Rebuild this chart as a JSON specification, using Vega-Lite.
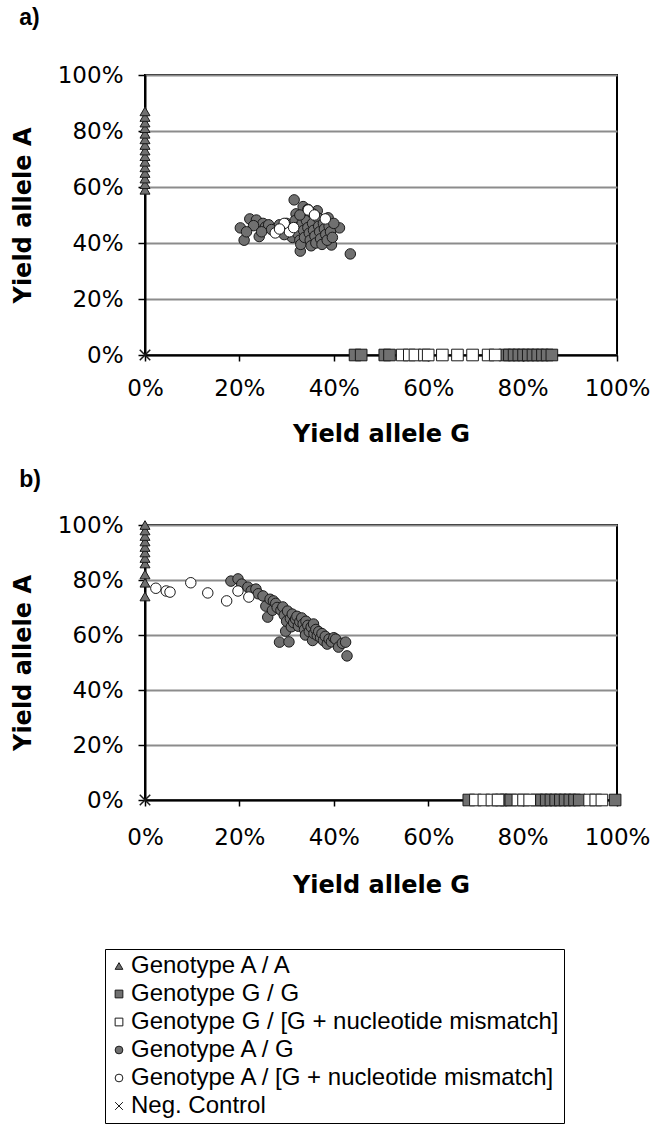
{
  "$schema": "https://vega.github.io/schema/vega-lite/v6.json",
  "background": "white",
  "padding": {"left": 10, "top": 6, "right": 5, "bottom": 0},
  "config": {
    "view": {"stroke": "black", "strokeWidth": 2},
    "axis": {
      "domainColor": "black", "domainWidth": 2,
      "tickColor": "black", "tickWidth": 1.5,
      "labelFont": "DejaVu Sans", "labelFontSize": 23, "labelColor": "black",
      "titleFont": "DejaVu Sans", "titleFontSize": 24, "titleFontWeight": "bold", "titleColor": "black"
    },
    "axisX": {"grid": false, "tickSize": 6, "labelPadding": 16, "titlePadding": 22, "labelFlush": false},
    "axisY": {"grid": true, "gridColor": "#8c8c8c", "gridWidth": 2, "gridOpacity": 1, "tickSize": 7, "labelPadding": 15, "titlePadding": 22, "labelFlush": false},
    "title": {"anchor": "start", "frame": "bounds", "font": "Liberation Sans", "fontSize": 23, "fontWeight": "bold", "color": "black", "dx": 8},
    "legend": {"labelLimit": 700},
    "point": {"opacity": 1, "stroke": "#1a1a1a", "strokeWidth": 1}
  },
  "datasets": {
    "pa": [
      {"genotype": "Genotype A / A", "g": 0, "a": 0.59},
      {"genotype": "Genotype A / A", "g": 0, "a": 0.61},
      {"genotype": "Genotype A / A", "g": 0, "a": 0.63},
      {"genotype": "Genotype A / A", "g": 0, "a": 0.65},
      {"genotype": "Genotype A / A", "g": 0, "a": 0.67},
      {"genotype": "Genotype A / A", "g": 0, "a": 0.69},
      {"genotype": "Genotype A / A", "g": 0, "a": 0.71},
      {"genotype": "Genotype A / A", "g": 0, "a": 0.73},
      {"genotype": "Genotype A / A", "g": 0, "a": 0.75},
      {"genotype": "Genotype A / A", "g": 0, "a": 0.77},
      {"genotype": "Genotype A / A", "g": 0, "a": 0.79},
      {"genotype": "Genotype A / A", "g": 0, "a": 0.81},
      {"genotype": "Genotype A / A", "g": 0, "a": 0.83},
      {"genotype": "Genotype A / A", "g": 0, "a": 0.85},
      {"genotype": "Genotype A / A", "g": 0, "a": 0.87},
      {"genotype": "Genotype G / G", "g": 0.445, "a": 0},
      {"genotype": "Genotype G / G", "g": 0.458, "a": 0},
      {"genotype": "Genotype G / G", "g": 0.508, "a": 0},
      {"genotype": "Genotype G / G", "g": 0.518, "a": 0},
      {"genotype": "Genotype G / G", "g": 0.762, "a": 0},
      {"genotype": "Genotype G / G", "g": 0.772, "a": 0},
      {"genotype": "Genotype G / G", "g": 0.782, "a": 0},
      {"genotype": "Genotype G / G", "g": 0.792, "a": 0},
      {"genotype": "Genotype G / G", "g": 0.802, "a": 0},
      {"genotype": "Genotype G / G", "g": 0.812, "a": 0},
      {"genotype": "Genotype G / G", "g": 0.822, "a": 0},
      {"genotype": "Genotype G / G", "g": 0.832, "a": 0},
      {"genotype": "Genotype G / G", "g": 0.842, "a": 0},
      {"genotype": "Genotype G / G", "g": 0.852, "a": 0},
      {"genotype": "Genotype G / G", "g": 0.862, "a": 0},
      {"genotype": "Genotype G / [G + nucleotide mismatch]", "g": 0.545, "a": 0},
      {"genotype": "Genotype G / [G + nucleotide mismatch]", "g": 0.560, "a": 0},
      {"genotype": "Genotype G / [G + nucleotide mismatch]", "g": 0.572, "a": 0},
      {"genotype": "Genotype G / [G + nucleotide mismatch]", "g": 0.592, "a": 0},
      {"genotype": "Genotype G / [G + nucleotide mismatch]", "g": 0.600, "a": 0},
      {"genotype": "Genotype G / [G + nucleotide mismatch]", "g": 0.630, "a": 0},
      {"genotype": "Genotype G / [G + nucleotide mismatch]", "g": 0.662, "a": 0},
      {"genotype": "Genotype G / [G + nucleotide mismatch]", "g": 0.694, "a": 0},
      {"genotype": "Genotype G / [G + nucleotide mismatch]", "g": 0.727, "a": 0},
      {"genotype": "Genotype G / [G + nucleotide mismatch]", "g": 0.742, "a": 0},
      {"genotype": "Genotype A / G", "g": 0.202, "a": 0.454},
      {"genotype": "Genotype A / G", "g": 0.210, "a": 0.410},
      {"genotype": "Genotype A / G", "g": 0.222, "a": 0.486},
      {"genotype": "Genotype A / G", "g": 0.236, "a": 0.482},
      {"genotype": "Genotype A / G", "g": 0.242, "a": 0.423},
      {"genotype": "Genotype A / G", "g": 0.250, "a": 0.470},
      {"genotype": "Genotype A / G", "g": 0.255, "a": 0.457},
      {"genotype": "Genotype A / G", "g": 0.262, "a": 0.465},
      {"genotype": "Genotype A / G", "g": 0.230, "a": 0.462},
      {"genotype": "Genotype A / G", "g": 0.268, "a": 0.448},
      {"genotype": "Genotype A / G", "g": 0.215, "a": 0.440},
      {"genotype": "Genotype A / G", "g": 0.247, "a": 0.440},
      {"genotype": "Genotype A / G", "g": 0.316, "a": 0.554},
      {"genotype": "Genotype A / G", "g": 0.320, "a": 0.504},
      {"genotype": "Genotype A / G", "g": 0.329, "a": 0.371},
      {"genotype": "Genotype A / G", "g": 0.395, "a": 0.393},
      {"genotype": "Genotype A / G", "g": 0.412, "a": 0.454},
      {"genotype": "Genotype A / G", "g": 0.435, "a": 0.361},
      {"genotype": "Genotype A / G", "g": 0.300, "a": 0.470},
      {"genotype": "Genotype A / G", "g": 0.305, "a": 0.455},
      {"genotype": "Genotype A / G", "g": 0.310, "a": 0.440},
      {"genotype": "Genotype A / G", "g": 0.312, "a": 0.420},
      {"genotype": "Genotype A / G", "g": 0.318, "a": 0.480},
      {"genotype": "Genotype A / G", "g": 0.322, "a": 0.455},
      {"genotype": "Genotype A / G", "g": 0.325, "a": 0.430},
      {"genotype": "Genotype A / G", "g": 0.328, "a": 0.410},
      {"genotype": "Genotype A / G", "g": 0.330, "a": 0.395},
      {"genotype": "Genotype A / G", "g": 0.333, "a": 0.470},
      {"genotype": "Genotype A / G", "g": 0.336, "a": 0.445},
      {"genotype": "Genotype A / G", "g": 0.338, "a": 0.420},
      {"genotype": "Genotype A / G", "g": 0.340, "a": 0.500},
      {"genotype": "Genotype A / G", "g": 0.342, "a": 0.480},
      {"genotype": "Genotype A / G", "g": 0.345, "a": 0.455},
      {"genotype": "Genotype A / G", "g": 0.348, "a": 0.435},
      {"genotype": "Genotype A / G", "g": 0.350, "a": 0.410},
      {"genotype": "Genotype A / G", "g": 0.352, "a": 0.390},
      {"genotype": "Genotype A / G", "g": 0.355, "a": 0.470},
      {"genotype": "Genotype A / G", "g": 0.357, "a": 0.445},
      {"genotype": "Genotype A / G", "g": 0.360, "a": 0.425},
      {"genotype": "Genotype A / G", "g": 0.362, "a": 0.400},
      {"genotype": "Genotype A / G", "g": 0.365, "a": 0.515},
      {"genotype": "Genotype A / G", "g": 0.366, "a": 0.490},
      {"genotype": "Genotype A / G", "g": 0.368, "a": 0.460},
      {"genotype": "Genotype A / G", "g": 0.370, "a": 0.440},
      {"genotype": "Genotype A / G", "g": 0.372, "a": 0.415},
      {"genotype": "Genotype A / G", "g": 0.375, "a": 0.395},
      {"genotype": "Genotype A / G", "g": 0.378, "a": 0.470},
      {"genotype": "Genotype A / G", "g": 0.380, "a": 0.450},
      {"genotype": "Genotype A / G", "g": 0.383, "a": 0.430},
      {"genotype": "Genotype A / G", "g": 0.386, "a": 0.410},
      {"genotype": "Genotype A / G", "g": 0.388, "a": 0.490},
      {"genotype": "Genotype A / G", "g": 0.390, "a": 0.460},
      {"genotype": "Genotype A / G", "g": 0.393, "a": 0.440},
      {"genotype": "Genotype A / G", "g": 0.397, "a": 0.420},
      {"genotype": "Genotype A / G", "g": 0.400, "a": 0.470},
      {"genotype": "Genotype A / G", "g": 0.335, "a": 0.530},
      {"genotype": "Genotype A / G", "g": 0.345, "a": 0.520},
      {"genotype": "Genotype A / G", "g": 0.355, "a": 0.505},
      {"genotype": "Genotype A / G", "g": 0.328, "a": 0.500},
      {"genotype": "Genotype A / G", "g": 0.290, "a": 0.450},
      {"genotype": "Genotype A / G", "g": 0.295, "a": 0.430},
      {"genotype": "Genotype A / G", "g": 0.285, "a": 0.465},
      {"genotype": "Genotype A / [G + nucleotide mismatch]", "g": 0.276, "a": 0.436},
      {"genotype": "Genotype A / [G + nucleotide mismatch]", "g": 0.306, "a": 0.440},
      {"genotype": "Genotype A / [G + nucleotide mismatch]", "g": 0.295, "a": 0.470},
      {"genotype": "Genotype A / [G + nucleotide mismatch]", "g": 0.285, "a": 0.450},
      {"genotype": "Genotype A / [G + nucleotide mismatch]", "g": 0.346, "a": 0.518},
      {"genotype": "Genotype A / [G + nucleotide mismatch]", "g": 0.359, "a": 0.500},
      {"genotype": "Genotype A / [G + nucleotide mismatch]", "g": 0.382, "a": 0.486},
      {"genotype": "Genotype A / [G + nucleotide mismatch]", "g": 0.315, "a": 0.455},
      {"genotype": "Neg. Control", "g": 0, "a": 0}
    ],
    "pb": [
      {"genotype": "Genotype A / A", "g": 0, "a": 0.74},
      {"genotype": "Genotype A / A", "g": 0, "a": 0.79},
      {"genotype": "Genotype A / A", "g": 0, "a": 0.82},
      {"genotype": "Genotype A / A", "g": 0, "a": 0.86},
      {"genotype": "Genotype A / A", "g": 0, "a": 0.88},
      {"genotype": "Genotype A / A", "g": 0, "a": 0.90},
      {"genotype": "Genotype A / A", "g": 0, "a": 0.92},
      {"genotype": "Genotype A / A", "g": 0, "a": 0.94},
      {"genotype": "Genotype A / A", "g": 0, "a": 0.96},
      {"genotype": "Genotype A / A", "g": 0, "a": 0.98},
      {"genotype": "Genotype A / A", "g": 0, "a": 1.0},
      {"genotype": "Genotype G / G", "g": 0.686, "a": 0},
      {"genotype": "Genotype G / G", "g": 0.755, "a": 0},
      {"genotype": "Genotype G / G", "g": 0.765, "a": 0},
      {"genotype": "Genotype G / G", "g": 0.775, "a": 0},
      {"genotype": "Genotype G / G", "g": 0.830, "a": 0},
      {"genotype": "Genotype G / G", "g": 0.840, "a": 0},
      {"genotype": "Genotype G / G", "g": 0.850, "a": 0},
      {"genotype": "Genotype G / G", "g": 0.860, "a": 0},
      {"genotype": "Genotype G / G", "g": 0.870, "a": 0},
      {"genotype": "Genotype G / G", "g": 0.880, "a": 0},
      {"genotype": "Genotype G / G", "g": 0.890, "a": 0},
      {"genotype": "Genotype G / G", "g": 0.900, "a": 0},
      {"genotype": "Genotype G / G", "g": 0.910, "a": 0},
      {"genotype": "Genotype G / G", "g": 0.920, "a": 0},
      {"genotype": "Genotype G / G", "g": 0.996, "a": 0},
      {"genotype": "Genotype G / [G + nucleotide mismatch]", "g": 0.700, "a": 0},
      {"genotype": "Genotype G / [G + nucleotide mismatch]", "g": 0.718, "a": 0},
      {"genotype": "Genotype G / [G + nucleotide mismatch]", "g": 0.735, "a": 0},
      {"genotype": "Genotype G / [G + nucleotide mismatch]", "g": 0.748, "a": 0},
      {"genotype": "Genotype G / [G + nucleotide mismatch]", "g": 0.790, "a": 0},
      {"genotype": "Genotype G / [G + nucleotide mismatch]", "g": 0.802, "a": 0},
      {"genotype": "Genotype G / [G + nucleotide mismatch]", "g": 0.815, "a": 0},
      {"genotype": "Genotype G / [G + nucleotide mismatch]", "g": 0.942, "a": 0},
      {"genotype": "Genotype G / [G + nucleotide mismatch]", "g": 0.955, "a": 0},
      {"genotype": "Genotype G / [G + nucleotide mismatch]", "g": 0.968, "a": 0},
      {"genotype": "Genotype A / G", "g": 0.182, "a": 0.796},
      {"genotype": "Genotype A / G", "g": 0.197, "a": 0.804},
      {"genotype": "Genotype A / G", "g": 0.205, "a": 0.785},
      {"genotype": "Genotype A / G", "g": 0.218, "a": 0.774},
      {"genotype": "Genotype A / G", "g": 0.225, "a": 0.760},
      {"genotype": "Genotype A / G", "g": 0.235, "a": 0.767},
      {"genotype": "Genotype A / G", "g": 0.240, "a": 0.750},
      {"genotype": "Genotype A / G", "g": 0.250, "a": 0.742},
      {"genotype": "Genotype A / G", "g": 0.256, "a": 0.705},
      {"genotype": "Genotype A / G", "g": 0.260, "a": 0.665},
      {"genotype": "Genotype A / G", "g": 0.265, "a": 0.730},
      {"genotype": "Genotype A / G", "g": 0.270, "a": 0.690},
      {"genotype": "Genotype A / G", "g": 0.272, "a": 0.724},
      {"genotype": "Genotype A / G", "g": 0.277, "a": 0.715},
      {"genotype": "Genotype A / G", "g": 0.280, "a": 0.700},
      {"genotype": "Genotype A / G", "g": 0.285, "a": 0.574},
      {"genotype": "Genotype A / G", "g": 0.288, "a": 0.690},
      {"genotype": "Genotype A / G", "g": 0.292, "a": 0.702},
      {"genotype": "Genotype A / G", "g": 0.295, "a": 0.672},
      {"genotype": "Genotype A / G", "g": 0.298, "a": 0.614},
      {"genotype": "Genotype A / G", "g": 0.300, "a": 0.650},
      {"genotype": "Genotype A / G", "g": 0.302, "a": 0.687},
      {"genotype": "Genotype A / G", "g": 0.305, "a": 0.575},
      {"genotype": "Genotype A / G", "g": 0.308, "a": 0.660},
      {"genotype": "Genotype A / G", "g": 0.310, "a": 0.630},
      {"genotype": "Genotype A / G", "g": 0.312, "a": 0.676},
      {"genotype": "Genotype A / G", "g": 0.315, "a": 0.645},
      {"genotype": "Genotype A / G", "g": 0.319, "a": 0.658},
      {"genotype": "Genotype A / G", "g": 0.322, "a": 0.668},
      {"genotype": "Genotype A / G", "g": 0.325, "a": 0.632},
      {"genotype": "Genotype A / G", "g": 0.328, "a": 0.648},
      {"genotype": "Genotype A / G", "g": 0.332, "a": 0.662},
      {"genotype": "Genotype A / G", "g": 0.335, "a": 0.640},
      {"genotype": "Genotype A / G", "g": 0.338, "a": 0.620},
      {"genotype": "Genotype A / G", "g": 0.340, "a": 0.600},
      {"genotype": "Genotype A / G", "g": 0.341, "a": 0.650},
      {"genotype": "Genotype A / G", "g": 0.345, "a": 0.635},
      {"genotype": "Genotype A / G", "g": 0.348, "a": 0.612},
      {"genotype": "Genotype A / G", "g": 0.352, "a": 0.629},
      {"genotype": "Genotype A / G", "g": 0.355, "a": 0.580},
      {"genotype": "Genotype A / G", "g": 0.357, "a": 0.640},
      {"genotype": "Genotype A / G", "g": 0.358, "a": 0.605},
      {"genotype": "Genotype A / G", "g": 0.362, "a": 0.620},
      {"genotype": "Genotype A / G", "g": 0.365, "a": 0.598},
      {"genotype": "Genotype A / G", "g": 0.368, "a": 0.612},
      {"genotype": "Genotype A / G", "g": 0.372, "a": 0.590},
      {"genotype": "Genotype A / G", "g": 0.375, "a": 0.605},
      {"genotype": "Genotype A / G", "g": 0.378, "a": 0.580},
      {"genotype": "Genotype A / G", "g": 0.382, "a": 0.595},
      {"genotype": "Genotype A / G", "g": 0.386, "a": 0.567},
      {"genotype": "Genotype A / G", "g": 0.390, "a": 0.585},
      {"genotype": "Genotype A / G", "g": 0.395, "a": 0.575},
      {"genotype": "Genotype A / G", "g": 0.400, "a": 0.590},
      {"genotype": "Genotype A / G", "g": 0.404, "a": 0.585},
      {"genotype": "Genotype A / G", "g": 0.410, "a": 0.556},
      {"genotype": "Genotype A / G", "g": 0.418, "a": 0.570},
      {"genotype": "Genotype A / G", "g": 0.425, "a": 0.574},
      {"genotype": "Genotype A / G", "g": 0.428, "a": 0.524},
      {"genotype": "Genotype A / [G + nucleotide mismatch]", "g": 0.023, "a": 0.770},
      {"genotype": "Genotype A / [G + nucleotide mismatch]", "g": 0.045, "a": 0.760},
      {"genotype": "Genotype A / [G + nucleotide mismatch]", "g": 0.053, "a": 0.756},
      {"genotype": "Genotype A / [G + nucleotide mismatch]", "g": 0.097, "a": 0.790},
      {"genotype": "Genotype A / [G + nucleotide mismatch]", "g": 0.133, "a": 0.753},
      {"genotype": "Genotype A / [G + nucleotide mismatch]", "g": 0.173, "a": 0.724},
      {"genotype": "Genotype A / [G + nucleotide mismatch]", "g": 0.197, "a": 0.760},
      {"genotype": "Genotype A / [G + nucleotide mismatch]", "g": 0.220, "a": 0.738},
      {"genotype": "Neg. Control", "g": 0, "a": 0}
    ]
  },
  "vconcat": [
    {
      "title": {"text": "a)", "offset": 34},
      "width": 472,
      "height": 280,
      "data": {"name": "pa"},
      "encoding": {
        "x": {"field": "g", "type": "quantitative", "scale": {"domain": [0, 1]}, "axis": {"values": [0, 0.2, 0.4, 0.6, 0.8, 1], "format": ".0%", "title": "Yield allele G"}},
        "y": {"field": "a", "type": "quantitative", "scale": {"domain": [0, 1]}, "axis": {"values": [0, 0.2, 0.4, 0.6, 0.8, 1], "format": ".0%", "title": "Yield allele A"}},
        "shape": {"field": "genotype", "type": "nominal",
          "scale": {"domain": ["Genotype A / A", "Genotype G / G", "Genotype G / [G + nucleotide mismatch]", "Genotype A / G", "Genotype A / [G + nucleotide mismatch]", "Neg. Control"],
                    "range": ["triangle-up", "square", "square", "circle", "circle", "M-1,-1L1,1M-1,1L1,-1"]},
          "legend": {"title": null, "orient": "none", "legendX": -40, "legendY": 874, "direction": "vertical", "strokeColor": "black", "padding": 5, "labelFont": "Liberation Sans", "labelFontSize": 24, "labelColor": "black", "symbolSize": 60, "symbolOffset": -3, "rowPadding": 4, "labelOffset": 0, "fillColor": "white",
            "encode": {"symbols": {"update": {"stroke": {"value": "black"}, "strokeWidth": {"value": 1}, "opacity": {"value": 1}}}}}},
        "fill": {"field": "genotype", "type": "nominal",
          "scale": {"domain": ["Genotype A / A", "Genotype G / G", "Genotype G / [G + nucleotide mismatch]", "Genotype A / G", "Genotype A / [G + nucleotide mismatch]", "Neg. Control"],
                    "range": ["#707070", "#707070", "#ffffff", "#707070", "#ffffff", "transparent"]},
          "legend": {"title": null, "orient": "none", "legendX": -40, "legendY": 874, "direction": "vertical", "strokeColor": "black", "padding": 5, "labelFont": "Liberation Sans", "labelFontSize": 24, "labelColor": "black", "symbolSize": 60, "symbolOffset": -3, "rowPadding": 4, "labelOffset": 0, "fillColor": "white",
            "encode": {"symbols": {"update": {"stroke": {"value": "black"}, "strokeWidth": {"value": 1}, "opacity": {"value": 1}}}}}}
      },
      "layer": [
        {"transform": [{"filter": "datum.genotype === 'Genotype A / A'"}], "mark": {"type": "point", "size": 100}},
        {"transform": [{"filter": "datum.genotype === 'Genotype G / G' || datum.genotype === 'Genotype G / [G + nucleotide mismatch]'"}], "mark": {"type": "point", "size": 135}},
        {"transform": [{"filter": "datum.genotype === 'Genotype A / G' || datum.genotype === 'Genotype A / [G + nucleotide mismatch]'"}], "mark": {"type": "point", "size": 110}},
        {"transform": [{"filter": "datum.genotype === 'Neg. Control'"}], "mark": {"type": "point", "size": 110, "strokeWidth": 1.5}}
      ]
    },
    {
      "title": {"text": "b)", "offset": 22},
      "width": 472,
      "height": 275,
      "data": {"name": "pb"},
      "encoding": {
        "x": {"field": "g", "type": "quantitative", "scale": {"domain": [0, 1]}, "axis": {"values": [0, 0.2, 0.4, 0.6, 0.8, 1], "format": ".0%", "title": "Yield allele G", "labelPadding": 20, "titlePadding": 24}},
        "y": {"field": "a", "type": "quantitative", "scale": {"domain": [0, 1]}, "axis": {"values": [0, 0.2, 0.4, 0.6, 0.8, 1], "format": ".0%", "title": "Yield allele A"}},
        "shape": {"field": "genotype", "type": "nominal",
          "scale": {"domain": ["Genotype A / A", "Genotype G / G", "Genotype G / [G + nucleotide mismatch]", "Genotype A / G", "Genotype A / [G + nucleotide mismatch]", "Neg. Control"],
                    "range": ["triangle-up", "square", "square", "circle", "circle", "M-1,-1L1,1M-1,1L1,-1"]},
          "legend": {"title": null, "orient": "none", "legendX": -40, "legendY": 874, "direction": "vertical", "strokeColor": "black", "padding": 5, "labelFont": "Liberation Sans", "labelFontSize": 24, "labelColor": "black", "symbolSize": 60, "symbolOffset": -3, "rowPadding": 4, "labelOffset": 0, "fillColor": "white",
            "encode": {"symbols": {"update": {"stroke": {"value": "black"}, "strokeWidth": {"value": 1}, "opacity": {"value": 1}}}}}},
        "fill": {"field": "genotype", "type": "nominal",
          "scale": {"domain": ["Genotype A / A", "Genotype G / G", "Genotype G / [G + nucleotide mismatch]", "Genotype A / G", "Genotype A / [G + nucleotide mismatch]", "Neg. Control"],
                    "range": ["#707070", "#707070", "#ffffff", "#707070", "#ffffff", "transparent"]},
          "legend": {"title": null, "orient": "none", "legendX": -40, "legendY": 874, "direction": "vertical", "strokeColor": "black", "padding": 5, "labelFont": "Liberation Sans", "labelFontSize": 24, "labelColor": "black", "symbolSize": 60, "symbolOffset": -3, "rowPadding": 4, "labelOffset": 0, "fillColor": "white",
            "encode": {"symbols": {"update": {"stroke": {"value": "black"}, "strokeWidth": {"value": 1}, "opacity": {"value": 1}}}}}}
      },
      "layer": [
        {"transform": [{"filter": "datum.genotype === 'Genotype A / A'"}], "mark": {"type": "point", "size": 100}},
        {"transform": [{"filter": "datum.genotype === 'Genotype G / G' || datum.genotype === 'Genotype G / [G + nucleotide mismatch]'"}], "mark": {"type": "point", "size": 135}},
        {"transform": [{"filter": "datum.genotype === 'Genotype A / G' || datum.genotype === 'Genotype A / [G + nucleotide mismatch]'"}], "mark": {"type": "point", "size": 110}},
        {"transform": [{"filter": "datum.genotype === 'Neg. Control'"}], "mark": {"type": "point", "size": 110, "strokeWidth": 1.5}}
      ]
    }
  ],
  "spacing": 21
}
